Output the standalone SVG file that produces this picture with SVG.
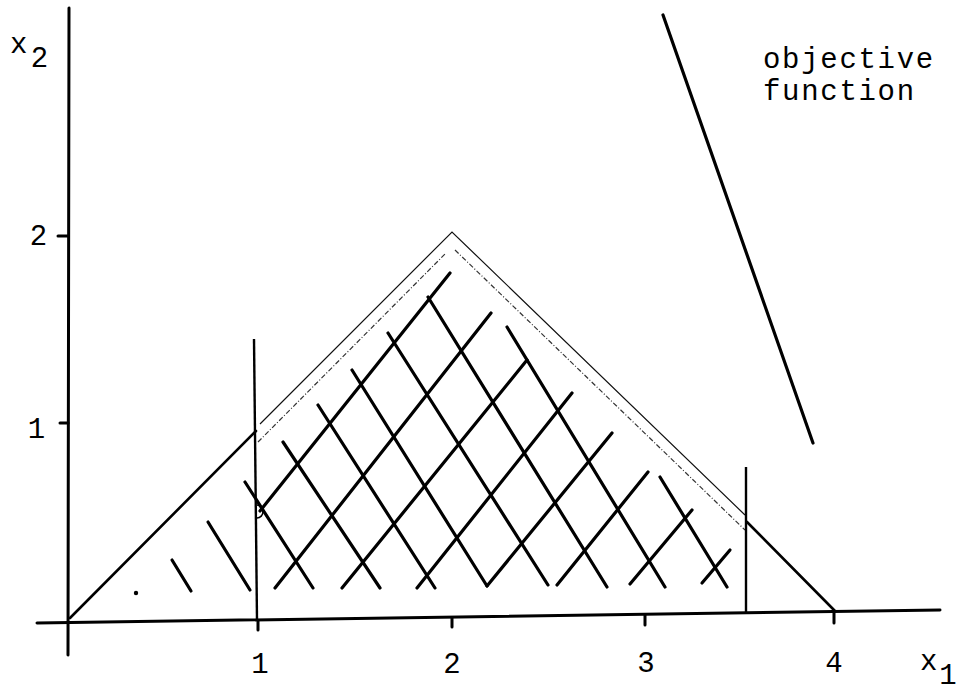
<svg xmlns="http://www.w3.org/2000/svg" width="962" height="693" viewBox="0 0 962 693">
<style>
.ax{stroke:#000;stroke-width:3;fill:none;stroke-linecap:round}
.bd{stroke:#000;stroke-width:2.6;fill:none;stroke-linecap:round;stroke-linejoin:round}
.thin{stroke:#111;stroke-width:1.2;fill:none}
.dot{stroke:#333;stroke-width:1.2;fill:none;stroke-dasharray:5 2 1 2}
.vl{stroke:#000;stroke-width:2.4;fill:none}
.h{stroke:#000;stroke-width:3.2;fill:none;stroke-linecap:round}
.t{font-family:"Liberation Mono","Courier New",monospace;font-size:29px;fill:#000}
.s{font-family:"Liberation Mono","Courier New",monospace;font-size:29px;fill:#000;text-anchor:middle}
</style>
<rect width="962" height="693" fill="#fff"/>
<g id="axes">
<line class="ax" x1="37" y1="623" x2="940" y2="610"/>
<line class="ax" x1="69" y1="8" x2="68" y2="655"/>
<line class="ax" x1="58" y1="236" x2="68" y2="236"/>
<line class="ax" x1="60" y1="423" x2="68" y2="423"/>
<line class="ax" x1="258" y1="621" x2="258" y2="630"/>
<line class="ax" x1="452" y1="618" x2="452" y2="627"/>
<line class="ax" x1="645" y1="615" x2="645" y2="625"/>
<line class="ax" x1="834" y1="613" x2="834" y2="623"/>
</g>
<g id="feasible-region">
<polyline class="bd" points="70,618 256,431"/>
<polyline class="bd" points="747,522 835,611"/>
<polyline class="thin" points="260,424 452,232 745,515"/>
<polyline class="dot" points="258,442 445,254"/>
<polyline class="dot" points="455,250 745,530"/>
<line class="vl" x1="254" y1="339" x2="257" y2="620"/>
<line class="vl" x1="746" y1="467" x2="746" y2="612"/>
</g>
<g id="hatching">
<line class="h" x1="260" y1="511" x2="450" y2="273"/>
<line class="h" x1="275" y1="588" x2="491" y2="313"/>
<line class="h" x1="342" y1="588" x2="527" y2="360"/>
<line class="h" x1="417" y1="588" x2="572" y2="393"/>
<line class="h" x1="487" y1="586" x2="612" y2="433"/>
<line class="h" x1="557" y1="585" x2="648" y2="472"/>
<line class="h" x1="630" y1="584" x2="692" y2="510"/>
<line class="h" x1="702" y1="583" x2="730" y2="550"/>
<line class="h" x1="245" y1="482" x2="313" y2="588"/>
<line class="h" x1="283" y1="442" x2="380" y2="588"/>
<line class="h" x1="318" y1="405" x2="435" y2="588"/>
<line class="h" x1="352" y1="370" x2="487" y2="586"/>
<line class="h" x1="388" y1="333" x2="548" y2="585"/>
<line class="h" x1="428" y1="297" x2="607" y2="587"/>
<line class="h" x1="507" y1="327" x2="665" y2="587"/>
<line class="h" x1="660" y1="477" x2="727" y2="587"/>
<line class="h" x1="172" y1="560" x2="191" y2="591"/>
<line class="h" x1="208" y1="522" x2="250" y2="590"/>
<circle cx="136" cy="593" r="2.2" fill="#000"/>
<path d="M257,505 a6,6.5 0 0 1 0,13" stroke="#000" stroke-width="1.6" fill="none"/>
</g>
<g id="objective-function">
<line class="h" x1="663" y1="15" x2="813" y2="443"/>
<text class="t" x="763" y="68" letter-spacing="1.7">objective</text>
<text class="t" x="763" y="100" letter-spacing="1.7">function</text>
</g>
<g id="labels">
<text class="t" x="10" y="53">x</text>
<text class="s" x="39.5" y="67">2</text>
<text class="s" x="38.5" y="245">2</text>
<text class="s" x="36.5" y="438">1</text>
<text class="s" x="260" y="673">1</text>
<text class="s" x="452" y="673">2</text>
<text class="s" x="646" y="672">3</text>
<text class="s" x="834" y="672">4</text>
<text class="t" x="920" y="670">x</text>
<text class="s" x="948" y="684">1</text>
</g>
</svg>
